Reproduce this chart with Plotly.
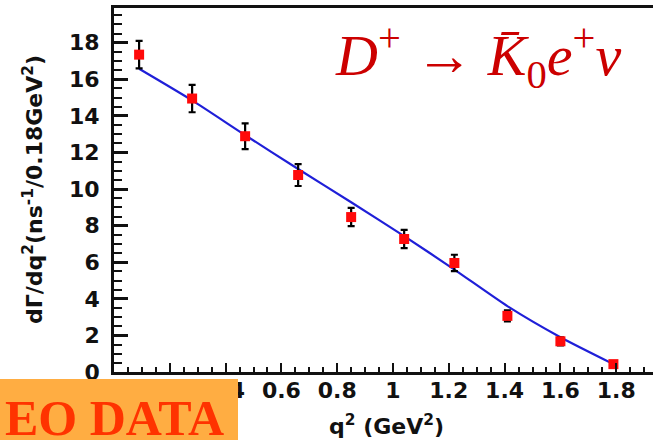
import plotly.graph_objects as go

# data
q2 = [0.09, 0.28, 0.47, 0.66, 0.85, 1.04, 1.22, 1.41, 1.60, 1.79]
rate = [17.35, 14.95, 12.89, 10.77, 8.47, 7.27, 5.96, 3.07, 1.68, 0.43]
rate_err = [0.75, 0.75, 0.70, 0.60, 0.50, 0.50, 0.45, 0.30, 0.22, 0.10]

fit_q2 = [0.09, 0.28, 0.47, 0.66, 0.85, 1.04, 1.22, 1.41, 1.60, 1.79]
fit_rate = [16.58, 14.85, 12.95, 11.10, 9.28, 7.43, 5.60, 3.60, 1.90, 0.43]

x_ticks = [0.2, 0.4, 0.6, 0.8, 1.0, 1.2, 1.4, 1.6, 1.8]
x_tick_labels = ["", "0.4", "0.6", "0.8", "1", "1.2", "1.4", "1.6", "1.8"]
y_ticks = [0, 2, 4, 6, 8, 10, 12, 14, 16, 18]

W, H = 653, 440
L, R, T, B = 114, 0, 8, 68
PW, PH = W - L - R, H - T - B

fig = go.Figure()
fig.add_trace(go.Scatter(
    x=fit_q2, y=fit_rate, mode="lines",
    line=dict(color="#1f1fd8", width=2.2, shape="spline", smoothing=0.6),
    hoverinfo="skip", showlegend=False))
fig.add_trace(go.Scatter(
    x=q2, y=rate, mode="markers",
    marker=dict(symbol="square", size=10, color="#ff0a0a"),
    error_y=dict(type="data", array=rate_err, color="black", thickness=2.2, width=3.5),
    showlegend=False))

tick_font = dict(family="DejaVu Sans", size=22, color="#111111", weight="bold")

fig.update_layout(
    width=W, height=H,
    margin=dict(l=L, r=R, t=T, b=B, pad=0),
    paper_bgcolor="white", plot_bgcolor="white",
    xaxis=dict(
        range=[0, PW / 279], showgrid=False, zeroline=False,
        showline=True, linecolor="#111111", linewidth=2.6, mirror=True,
        ticks="inside", ticklen=9, tickwidth=2.2, tickcolor="#111111",
        tickvals=x_ticks, ticktext=x_tick_labels,
        minor=dict(dtick=0.05, ticks="inside", ticklen=5, tickwidth=1.8, tickcolor="#111111"),
        tickfont=tick_font, ticklabelstandoff=-3,
    ),
    yaxis=dict(
        range=[0, 19.9], showgrid=False, zeroline=False,
        showline=True, linecolor="#111111", linewidth=2.8,
        ticks="inside", ticklen=14, tickwidth=2.6, tickcolor="#111111",
        tickvals=y_ticks,
        minor=dict(dtick=0.5, ticks="inside", ticklen=8, tickwidth=2.2, tickcolor="#111111"),
        tickfont=tick_font, ticklabelstandoff=7,
    ),
)

fig.update_layout(annotations=[
    dict(text="<b>dΓ/dq<sup>2</sup>(ns<sup>-1</sup>/0.18GeV<sup>2</sup>)</b>",
         xref="paper", yref="paper", x=(33 - L) / PW, y=0.5,
         xanchor="center", yanchor="middle", textangle=-90, showarrow=False,
         font=dict(family="DejaVu Sans", size=22, color="#111111")),
    dict(text="<b>q<sup>2</sup> (GeV<sup>2</sup>)</b>",
         xref="paper", yref="paper", x=(386 - L) / PW, y=(372 - 425) / PH,
         xanchor="center", yanchor="middle", showarrow=False,
         font=dict(family="DejaVu Sans", size=22, color="#111111")),
    dict(text="<i>D</i><sup>+</sup> → <i>K\u0304</i><sub>0</sub><i>e</i><sup>+</sup><i>ν</i>",
         xref="paper", yref="paper", x=(333 - L) / PW, y=(372 - 56) / PH,
         xanchor="left", yanchor="middle", showarrow=False,
         font=dict(family="Liberation Serif", size=58, color="#cc0000")),
    dict(text="<b>EO DATA</b>",
         xref="paper", yref="paper", x=(3 - L) / PW, y=(372 - 418) / PH,
         xanchor="left", yanchor="middle", showarrow=False,
         font=dict(family="Liberation Serif", size=50, color="#ff3300")),
])

fig.add_shape(type="rect", xref="paper", yref="paper",
              x0=(0 - L) / PW, x1=(238 - L) / PW,
              y0=(372 - 440) / PH, y1=(372 - 379) / PH,
              fillcolor="#ffad42", line=dict(width=0), layer="above")

fig.write_html("out.html", config={"displayModeBar": False},
               post_script="document.body.style.margin='0';document.body.style.padding='0';")
